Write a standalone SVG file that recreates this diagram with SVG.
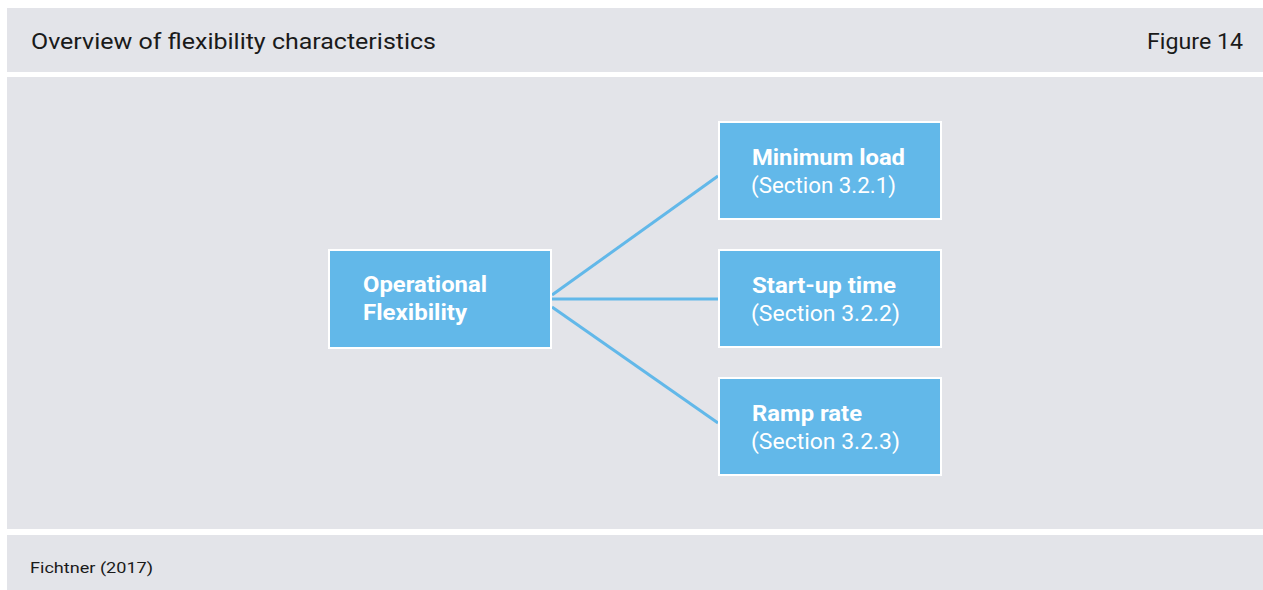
<svg xmlns="http://www.w3.org/2000/svg" width="1263" height="590" viewBox="0 0 1263 590">
<style>
.band{fill:#e3e4e9}
.box{fill:#62b8e9;stroke:#ffffff;stroke-width:2}
.conn{stroke:#62b8e9;stroke-width:3;fill:none}
.hd{font-family:Roboto,"Liberation Sans",sans-serif;font-size:22px;fill:#1a1a1a}
.ft{font-family:Roboto,"Liberation Sans",sans-serif;font-size:15px;fill:#1a1a1a}
.b{font-family:Roboto,"Liberation Sans",sans-serif;font-size:22.5px;font-weight:bold;fill:#ffffff}
.r{font-family:Roboto,"Liberation Sans",sans-serif;font-size:22.5px;fill:#ffffff}
</style>
<rect x="0" y="0" width="1263" height="590" fill="#ffffff"/>
<rect class="band" x="7" y="8" width="1256" height="64"/>
<rect class="band" x="7" y="77" width="1256" height="452"/>
<rect class="band" x="7" y="535" width="1256" height="55"/>
<text class="hd" x="31" y="49" textLength="405" lengthAdjust="spacingAndGlyphs">Overview of flexibility characteristics</text>
<text class="hd" x="1147" y="49" textLength="96" lengthAdjust="spacingAndGlyphs">Figure 14</text>
<text class="ft" x="30" y="573" textLength="123" lengthAdjust="spacingAndGlyphs">Fichtner (2017)</text>
<g id="connectors">
<line class="conn" x1="552" y1="295" x2="718" y2="176"/>
<line class="conn" x1="552" y1="299" x2="718" y2="299"/>
<line class="conn" x1="552" y1="307" x2="718" y2="423"/>
</g>
<g id="node-operational">
<rect class="box" x="329" y="250" width="222" height="98"/>
<text class="b" x="363" y="292" textLength="124" lengthAdjust="spacingAndGlyphs">Operational</text>
<text class="b" x="363" y="320" textLength="104" lengthAdjust="spacingAndGlyphs">Flexibility</text>
</g>
<g id="node-minimum-load">
<rect class="box" x="719" y="122" width="222" height="97"/>
<text class="b" x="752" y="165" textLength="153" lengthAdjust="spacingAndGlyphs">Minimum load</text>
<text class="r" x="751" y="193" textLength="145" lengthAdjust="spacingAndGlyphs">(Section 3.2.1)</text>
</g>
<g id="node-startup-time">
<rect class="box" x="719" y="250" width="222" height="97"/>
<text class="b" x="752" y="293" textLength="144" lengthAdjust="spacingAndGlyphs">Start-up time</text>
<text class="r" x="751" y="321" textLength="149" lengthAdjust="spacingAndGlyphs">(Section 3.2.2)</text>
</g>
<g id="node-ramp-rate">
<rect class="box" x="719" y="378" width="222" height="97"/>
<text class="b" x="752" y="421" textLength="110" lengthAdjust="spacingAndGlyphs">Ramp rate</text>
<text class="r" x="751" y="449" textLength="149" lengthAdjust="spacingAndGlyphs">(Section 3.2.3)</text>
</g>
</svg>
